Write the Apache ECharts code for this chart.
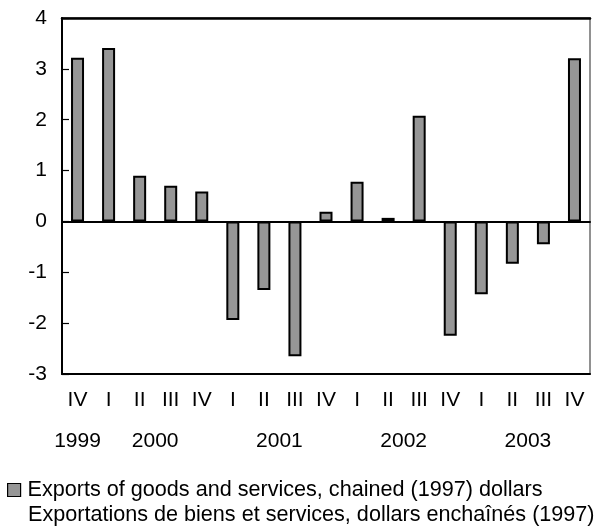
<!DOCTYPE html>
<html>
<head>
<meta charset="utf-8">
<script src="https://cdn.jsdelivr.net/npm/echarts@6/dist/echarts.min.js"></script>
<style>html,body{margin:0;padding:0;background:#fff}#c{width:596px;height:527px}</style>
</head>
<body>
<div id="c"></div>
<script>
var quarters = ['IV','I','II','III','IV','I','II','III','IV','I','II','III','IV','I','II','III','IV'];
var quarterYears = ['1999','2000','2000','2000','2000','2001','2001','2001','2001','2002','2002','2002','2002','2003','2003','2003','2003'];
var exportsValues = [3.22,3.41,0.9,0.7,0.59,-1.94,-1.35,-2.65,0.19,0.78,0.07,2.08,-2.25,-1.43,-0.83,-0.45,3.21];
var yearLabels = ['1999','2000','2001','2002','2003'];
var yTicks = {min:-3, max:4, interval:1};
var legendLine1 = 'Exports of goods and services, chained (1997) dollars';
var legendLine2 = 'Exportations de biens et services, dollars enchaînés (1997)';

var FONT = '"Liberation Sans", Arial, sans-serif';
var catIds = quarters.map(function(q,i){return quarterYears[i]+' '+q;});

var chart = echarts.init(document.getElementById('c'), null, {renderer:'canvas'});
var option = {
  animation:false,
  textStyle:{fontFamily:FONT},
  grid:{left:62,right:6,top:18,bottom:153,show:true,borderColor:'#6e6e6e',borderWidth:1.5,backgroundColor:'transparent'},
  legend:{
    left:2, top:474, itemWidth:13, itemHeight:13, icon:'rect',
    data:[legendLine1],
    textStyle:{fontFamily:FONT,fontSize:21.6,color:'#000',padding:[0,0,0,2]},
    itemStyle:{color:'#969696',borderColor:'#000',borderWidth:1.2}
  },
  xAxis:[
    {type:'category',data:catIds,position:'bottom',boundaryGap:true,
     axisLine:{onZero:false,lineStyle:{color:'#000',width:2}},
     axisTick:{inside:true,length:8,lineStyle:{color:'#000',width:1.2}},
     axisLabel:{formatter:function(v){return v.split(' ')[1];},fontSize:21,color:'#000',margin:16,fontFamily:FONT},
     splitLine:{show:false}},
    {type:'category',data:catIds,position:'bottom',
     axisLine:{onZero:true,lineStyle:{color:'#000',width:2}},
     axisTick:{show:false},axisLabel:{show:false}},
    {type:'category',data:catIds,position:'top',
     axisLine:{lineStyle:{color:'#000',width:2.5}},axisTick:{show:false},axisLabel:{show:false}}
  ],
  yAxis:{type:'value',min:yTicks.min,max:yTicks.max,interval:yTicks.interval,
    axisLine:{show:true,onZero:false,lineStyle:{color:'#000',width:2}},
    axisTick:{show:true,inside:true,length:7,lineStyle:{color:'#000',width:1.2}},
    axisLabel:{fontSize:21,color:'#000',margin:15,fontFamily:FONT},
    splitLine:{show:false}},
  series:[{
    name:legendLine1,type:'bar',data:exportsValues,barWidth:13,
    itemStyle:{color:'#969696',borderColor:'#000',borderWidth:2}
  }]
};
chart.setOption(option);

// year labels centred under their quarter groups
var graphics = [];
yearLabels.forEach(function(y){
  var idx = [];
  quarterYears.forEach(function(qy,i){ if(qy===y) idx.push(i); });
  var x0 = chart.convertToPixel({xAxisIndex:0}, catIds[idx[0]]);
  var x1 = chart.convertToPixel({xAxisIndex:0}, catIds[idx[idx.length-1]]);
  graphics.push({type:'text',x:(x0+x1)/2,y:441,style:{text:y,fontSize:21,fontFamily:FONT,fill:'#000',align:'center',verticalAlign:'middle'}});
});
graphics.push({type:'text',x:28,y:515,style:{text:legendLine2,fontSize:21.6,fontFamily:FONT,fill:'#000',align:'left',verticalAlign:'middle'}});
chart.setOption({graphic:graphics});
</script>
</body>
</html>
